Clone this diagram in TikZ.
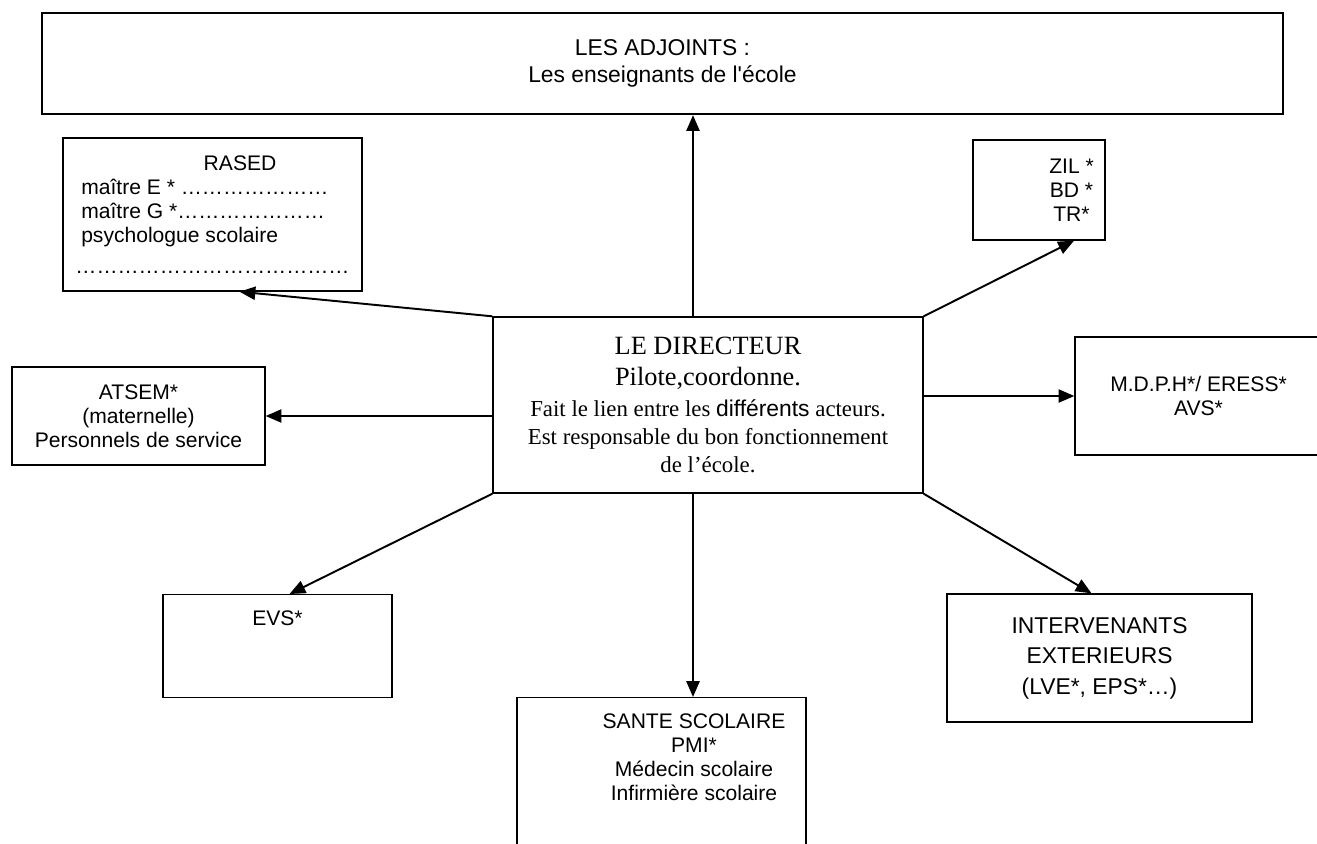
\documentclass[tikz,border=0pt]{standalone}
\usepackage{fontspec}
\setmainfont{Liberation Sans}
\newfontfamily\timesfont{Liberation Serif}
\usetikzlibrary{arrows.meta,calc,positioning}
\newcommand{\decal}[3]{\hspace*{37pt}\parbox[#1]{#2}{\centering #3}}

\begin{document}
\begin{tikzpicture}[
    x=0.02cm, y=-0.02cm,
    roleNode/.style={rectangle, draw=black, line width=0.8pt, align=center, font=\fontsize{12}{13.6}\selectfont},
    topNode/.style={rectangle, draw=black, line width=1.3pt, align=center, font=\fontsize{13}{15}\selectfont, minimum width=24.82cm, minimum height=2.02cm},
    chefNode/.style={rectangle, draw=black, line width=0.8pt, align=center, font=\timesfont\fontsize{13}{16}\selectfont, minimum width=8.6cm, minimum height=3.52cm},
    lienArrow/.style={-{Triangle[length=9pt, width=7.5pt]}, line width=1.1pt}
]
\useasboundingbox (0,0) rectangle (1317,843);

% Nodes
\node (adjoints) [topNode] at (662.5,63.5) {LES ADJOINTS :\\Les enseignants de l\textquotesingle école};
\node (rased) [roleNode, align=left, minimum width=5.98cm, minimum height=3.06cm] at (212.5,214.5)
    {\hspace*{73pt}RASED\\
     \hspace*{3.3pt}maître E * …………………\\
     \hspace*{3.3pt}maître G *…………………\\
     \hspace*{3.3pt}psychologue scolaire\\[4pt]
     …………………………………};
\node (zil) [roleNode, inner xsep=0pt, minimum width=2.64cm, minimum height=2cm] at (1039,190)
    {\decal{c}{30pt}{ZIL *\\BD *\\TR*}};
\node (directeur) [chefNode] at (708,405)
    {\fontsize{15}{17}\selectfont LE DIRECTEUR\\[1.5pt]
     \fontsize{15}{17}\selectfont Pilote,coordonne.\\[1.5pt]
     Fait le lien entre les {\normalfont différents} acteurs.\\
     Est responsable du bon fonctionnement\\
     de l’école.};
\node (atsem) [roleNode, minimum width=5.06cm, minimum height=1.96cm] at (138.5,416)
    {ATSEM*\\(maternelle)\\Personnels de service};
\node (mdph) [roleNode, minimum width=4.94cm, minimum height=2.36cm] at (1198.5,396)
    {M.D.P.H*/ ERESS*\\AVS*};
\node (evs) [roleNode, anchor=north, inner ysep=0pt, text height=17.6pt, text depth=40.8pt, minimum width=4.58cm] at (277.5,594)
    {EVS*};
\node (inter) [roleNode, font=\fontsize{13}{17.3}\selectfont, minimum width=6.1cm, minimum height=2.56cm] at (1099.5,658)
    {INTERVENANTS\\EXTERIEURS\\(LVE*, EPS*…)};
\node (sante) [roleNode, anchor=north, inner ysep=0pt, text height=17.6pt, text depth=100pt, minimum width=5.78cm] at (661.5,697)
    {\decal{t}{110pt}{SANTE SCOLAIRE\\PMI*\\Médecin scolaire\\Infirmière scolaire}};

% Connectors
\coordinate (axe) at ($(directeur.north)+(-15,0)$);
\draw [lienArrow] (axe) -- (axe |- adjoints.south);
\draw [lienArrow] (axe |- directeur.south) -- (axe |- sante.north);
\draw [lienArrow] (directeur.north west) -- ($(rased.south)+(27,0)$);
\draw [lienArrow] (directeur.north east) -- ($(zil.south)+(35,0)$);
\draw [lienArrow] (atsem.east -| directeur.west) -- (atsem.east);
\draw [lienArrow] (mdph.west -| directeur.east) -- (mdph.west);
\draw [lienArrow] (directeur.south west) -- ($(evs.north)+(12,0)$);
\draw [lienArrow] (directeur.south east) -- ($(inter.north)+(-8,0)$);

\end{tikzpicture}
\end{document}
